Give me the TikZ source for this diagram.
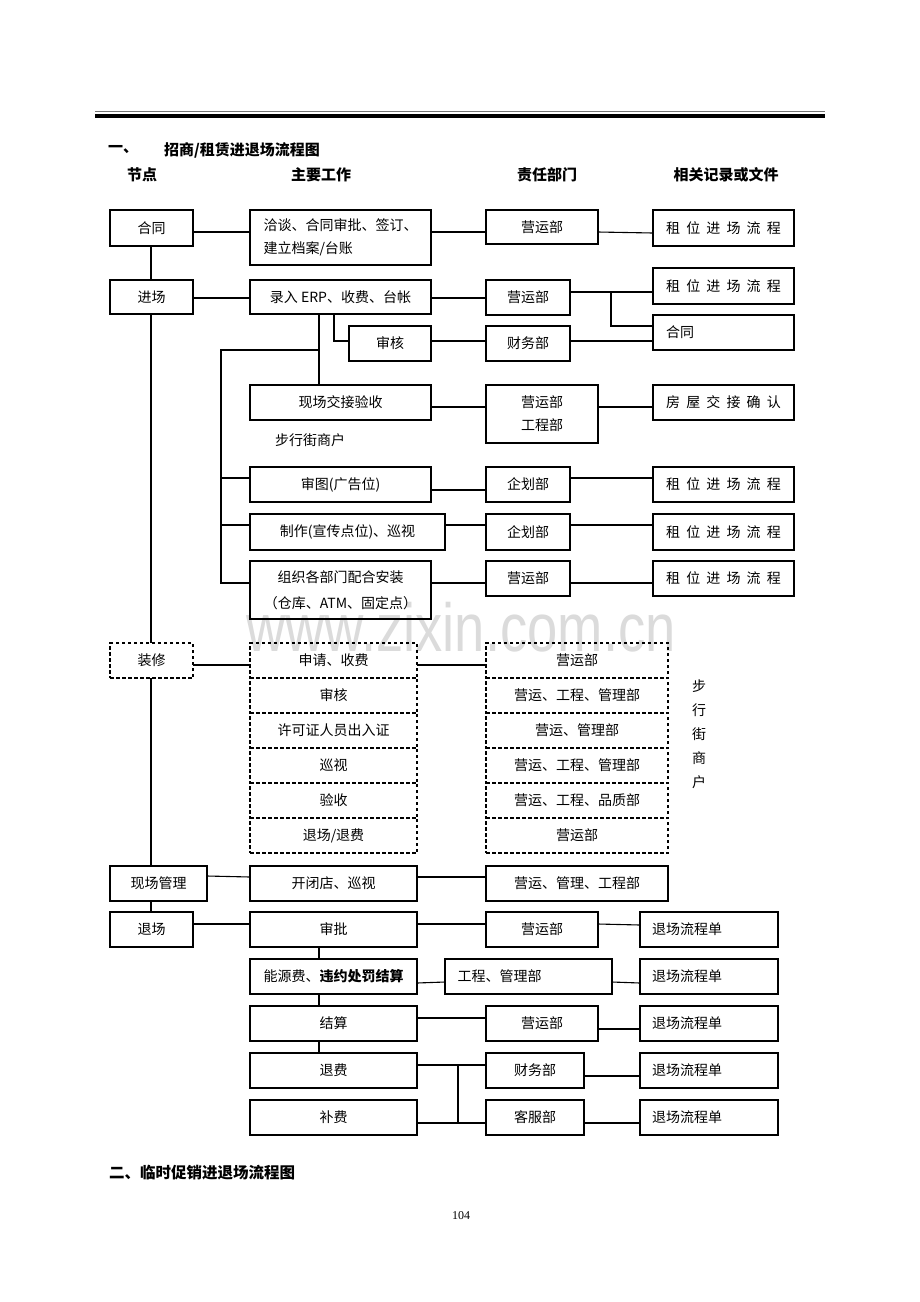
\documentclass[tikz,border=0pt]{standalone}
\usepackage{fontspec}
\setmainfont{Noto Sans CJK SC}
\newfontfamily\latinserif{Liberation Serif}
\newfontfamily\wmfont{Liberation Sans}
\newcommand\lsp{\hspace{0.44em}}
\newcommand\mybox[7][]{\node[box,minimum width={#5-#3},minimum height={#6-#4},#1] (#2) at ({(#3+#5)/2},{(#4+#6)/2}) {#7};}
\begin{document}
\begin{tikzpicture}[x=1pt,y=-1pt,
  box/.style={draw, line width=1.1pt, inner sep=0pt, outer sep=0pt, font=\fontsize{14}{23}\selectfont, align=center},
  dbox/.style={dash pattern=on 3.5pt off 2.5pt},
  conn/.style={line width=1.1pt},
  hdr/.style={inner sep=0pt, font=\fontsize{15}{18}\selectfont\bfseries},
  plain/.style={inner sep=0pt, font=\fontsize{14}{24}\selectfont},
]
\useasboundingbox[fill=white] (0,0) rectangle (920,1302);

% watermark
\node[inner sep=0pt, text=black!14, font=\wmfont\fontsize{68}{68}\selectfont, xscale=0.8] (wm) at (461,627) {www.zixin.com.cn};

% top rule
\draw[black!55, line width=1.5pt] (95,111.5) -- (825,111.5);
\draw[black, line width=4.5pt] (95,115.8) -- (825,115.8);

% headers
\node[hdr, anchor=west] (t1a) at (108,150) {一、};
\node[hdr, anchor=west] (t1b) at (164,150) {招商/租赁进退场流程图};
\node[hdr] (h1) at (142,175) {节点};
\node[hdr] (h2) at (321,175) {主要工作};
\node[hdr] (h3) at (547,175) {责任部门};
\node[hdr] (h4) at (726,175) {相关记录或文件};

% row 1
\mybox{hetong}{110}{210}{193}{246}{合同}
\mybox[align=left]{qiatan}{250}{210}{431}{265}{洽谈、合同审批、签订、\\建立档案/台账}
\mybox{yy1}{486}{210}{598}{244}{营运部}
\mybox{zw1}{653}{210}{794}{246}{租\lsp 位\lsp 进\lsp 场\lsp 流\lsp 程}
\draw[conn] (hetong.east |- 0,232) -- (qiatan.west |- 0,232);
\draw[conn] (qiatan.east |- 0,232) -- (yy1.west |- 0,232);
\draw[conn] (yy1.east |- 0,232) -- (zw1.west |- 0,233);

% row 2
\mybox{jinchang}{110}{280}{193}{314}{进场}
\mybox{luru}{250}{280}{431}{314}{录入 ERP、收费、台帐}
\mybox{yy2}{486}{280}{570}{315}{营运部}
\mybox{zw2}{653}{268}{794}{304}{租\lsp 位\lsp 进\lsp 场\lsp 流\lsp 程}
\mybox[text width=115pt, align=left]{ht2}{653}{315}{794}{350}{合同}
\draw[conn] (hetong.south -| 151,0) -- (jinchang.north -| 151,0);
\draw[conn] (jinchang.east |- 0,298) -- (luru.west |- 0,298);
\draw[conn] (luru.east |- 0,298) -- (yy2.west |- 0,298);
\draw[conn] (yy2.east |- 0,292) -- (zw2.west |- 0,292);
\coordinate (j1) at (611,292);
\draw[conn] (j1) |- (ht2.west |- 0,326);

% audit row
\mybox{shenhe}{349}{326}{431}{361}{审核}
\mybox{cw1}{486}{326}{570}{361}{财务部}
\draw[conn] (luru.south -| 334,0) |- (shenhe.west |- 0,341);
\draw[conn] (shenhe.east |- 0,341) -- (cw1.west |- 0,341);
\draw[conn] (cw1.east |- 0,341) -- (ht2.west |- 0,341);

% handover row
\mybox{xcjj}{250}{385}{431}{420}{现场交接验收}
\mybox{yygc}{486}{385}{598}{443}{营运部\\工程部}
\mybox{fw}{653}{385}{794}{420}{房\lsp 屋\lsp 交\lsp 接\lsp 确\lsp 认}
\draw[conn] (luru.south -| 319,0) -- (xcjj.north -| 319,0);
\draw[conn] (xcjj.east |- 0,407) -- (yygc.west |- 0,407);
\draw[conn] (yygc.east |- 0,407) -- (fw.west |- 0,407);
\node[plain, anchor=west] (bxj) at (275,440) {步行街商户};

% left arm
\coordinate (a0) at (319,350);
\coordinate (a1) at (221,350);
\coordinate (a2) at (221,583);

\mybox{shentu}{250}{467}{431}{502}{审图(广告位)}
\mybox{qh1}{486}{467}{570}{502}{企划部}
\mybox{zw3}{653}{467}{794}{502}{租\lsp 位\lsp 进\lsp 场\lsp 流\lsp 程}

\mybox{zhizuo}{250}{514}{445}{550}{制作(宣传点位)、巡视}
\mybox{qh2}{486}{514}{570}{550}{企划部}
\mybox{zw4}{653}{514}{794}{550}{租\lsp 位\lsp 进\lsp 场\lsp 流\lsp 程}

\mybox[font=\fontsize{14}{26}\selectfont]{zuzhi}{250}{561}{431}{619}{组织各部门配合安装\\（仓库、ATM、固定点）}
\mybox{yy4}{486}{561}{570}{596}{营运部}
\mybox{zw5}{653}{561}{794}{596}{租\lsp 位\lsp 进\lsp 场\lsp 流\lsp 程}

\draw[conn] (a0) -- (a1) -- (a2) -- (zuzhi.west |- a2);
\draw[conn] (a1 |- 0,478) -- (shentu.west |- 0,478);
\draw[conn] (a1 |- 0,525) -- (zhizuo.west |- 0,525);
\draw[conn] (shentu.east |- 0,490) -- (qh1.west |- 0,490);
\draw[conn] (qh1.east |- 0,478) -- (zw3.west |- 0,478);
\draw[conn] (zhizuo.east |- 0,525) -- (qh2.west |- 0,525);
\draw[conn] (qh2.east |- 0,525) -- (zw4.west |- 0,525);
\draw[conn] (zuzhi.east |- 0,583) -- (yy4.west |- 0,583);
\draw[conn] (yy4.east |- 0,583) -- (zw5.west |- 0,583);

% decoration (dashed)
\mybox[dbox]{zx}{110}{643}{193}{678}{装修}
\mybox[dbox]{d1}{250}{643}{417}{678}{申请、收费}
\mybox[dbox]{d2}{250}{678}{417}{713}{审核}
\mybox[dbox]{d3}{250}{713}{417}{748}{许可证人员出入证}
\mybox[dbox]{d4}{250}{748}{417}{783}{巡视}
\mybox[dbox]{d5}{250}{783}{417}{818}{验收}
\mybox[dbox]{d6}{250}{818}{417}{853}{退场/退费}
\mybox[dbox]{r1}{486}{643}{668}{678}{营运部}
\mybox[dbox]{r2}{486}{678}{668}{713}{营运、工程、管理部}
\mybox[dbox]{r3}{486}{713}{668}{748}{营运、管理部}
\mybox[dbox]{r4}{486}{748}{668}{783}{营运、工程、管理部}
\mybox[dbox]{r5}{486}{783}{668}{818}{营运、工程、品质部}
\mybox[dbox]{r6}{486}{818}{668}{853}{营运部}
\draw[conn] (zx.east |- 0,665) -- (d1.west |- 0,665);
\draw[conn] (d1.east |- 0,665) -- (r1.west |- 0,665);
\node[plain, align=center] (vt) at (699,734) {步\\行\\街\\商\\户};
\draw[conn] (jinchang.south -| 151,0) -- (zx.north -| 151,0);

% site management
\mybox{xcgl}{110}{866}{207}{901}{现场管理}
\mybox{kb}{250}{866}{417}{901}{开闭店、巡视}
\mybox{ygg}{486}{866}{668}{901}{营运、管理、工程部}
\draw[conn] (zx.south -| 151,0) -- (xcgl.north -| 151,0);
\draw[conn] (xcgl.east |- 0,876) -- (kb.west |- 0,877);
\draw[conn] (kb.east |- 0,877) -- (ygg.west |- 0,877);

% exit
\mybox{tc}{110}{912}{193}{947}{退场}
\mybox{sp}{250}{912}{417}{947}{审批}
\mybox{yy5}{486}{912}{598}{947}{营运部}
\mybox[text width=114pt, align=left]{l1}{640}{912}{778}{947}{退场流程单}
\draw[conn] (xcgl.south -| 151,0) -- (tc.north -| 151,0);
\draw[conn] (tc.east |- 0,924) -- (sp.west |- 0,924);
\draw[conn] (sp.east |- 0,924) -- (yy5.west |- 0,924);
\draw[conn] (yy5.east |- 0,924) -- (l1.west |- 0,925);

\mybox{ny}{250}{959}{417}{994}{能源费、\textbf{违约处罚结算}}
\mybox[text width=142pt, align=left]{gg}{445}{959}{612}{994}{工程、管理部}
\mybox[text width=114pt, align=left]{l2}{640}{959}{778}{994}{退场流程单}
\draw[conn] (sp.south -| 319,0) -- (ny.north -| 319,0);
\draw[conn] (ny.east |- 0,983) -- (gg.west |- 0,982);
\draw[conn] (gg.east |- 0,982) -- (l2.west |- 0,983);

\mybox{js}{250}{1006}{417}{1041}{结算}
\mybox{yy6}{486}{1006}{598}{1041}{营运部}
\mybox[text width=114pt, align=left]{l3}{640}{1006}{778}{1041}{退场流程单}
\draw[conn] (ny.south -| 319,0) -- (js.north -| 319,0);
\draw[conn] (js.east |- 0,1018) -- (yy6.west |- 0,1018);
\draw[conn] (yy6.east |- 0,1029) -- (l3.west |- 0,1029);

\mybox{tf}{250}{1053}{417}{1088}{退费}
\mybox{bf}{250}{1100}{417}{1135}{补费}
\mybox{cw2}{486}{1053}{584}{1088}{财务部}
\mybox{kf}{486}{1100}{584}{1135}{客服部}
\mybox[text width=114pt, align=left]{l4}{640}{1053}{778}{1088}{退场流程单}
\mybox[text width=114pt, align=left]{l5}{640}{1100}{778}{1135}{退场流程单}
\draw[conn] (js.south -| 319,0) -- (tf.north -| 319,0);
\coordinate (bus1) at (458,1065);
\coordinate (bus2) at (458,1123);
\draw[conn] (tf.east |- bus1) -- (cw2.west |- bus1);
\draw[conn] (bf.east |- bus2) -- (kf.west |- bus2);
\draw[conn] (bus1) -- (bus2);
\draw[conn] (cw2.east |- 0,1076) -- (l4.west |- 0,1076);
\draw[conn] (kf.east |- 0,1123) -- (l5.west |- 0,1123);

% bottom
\node[hdr, anchor=west, font=\fontsize{15.5}{18}\selectfont\bfseries] (t2) at (109,1173) {二、临时促销进退场流程图};
\node[inner sep=0pt, font=\latinserif\fontsize{12}{14}\selectfont] (pg) at (461,1216) {104};
\end{tikzpicture}
\end{document}
